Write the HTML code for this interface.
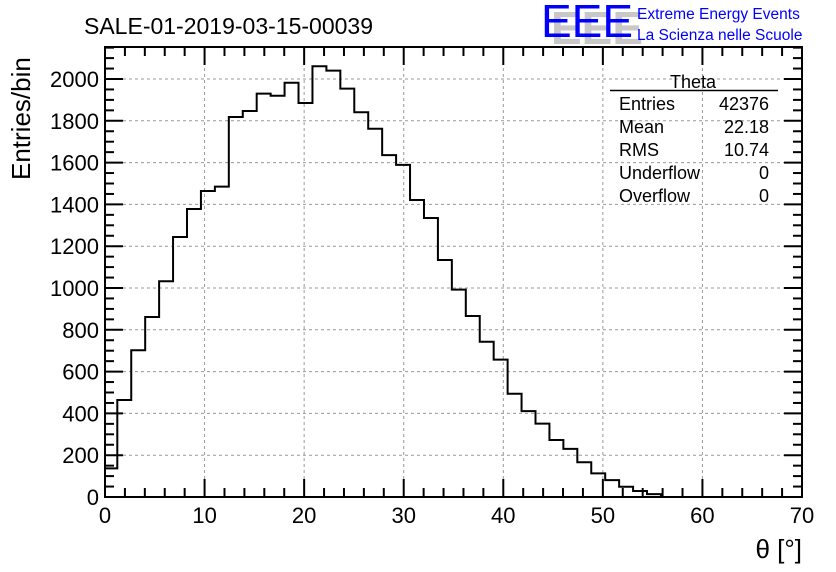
<!DOCTYPE html>
<html><head><meta charset="utf-8"><style>
body{margin:0;background:#fff;}
svg{display:block;font-family:"Liberation Sans",sans-serif;}
</style></head><body>
<svg id="chart" width="836" height="572" xmlns="http://www.w3.org/2000/svg">
<rect width="836" height="572" fill="#fff"/>
<text x="84" y="34" font-size="23">SALE-01-2019-03-15-00039</text>
<g>
<text x="547" y="41" font-size="46" fill="#c8c8c8" font-weight="bold" transform="translate(4,3)">EEE</text>
<text x="541" y="37" font-size="46" fill="#0000ff">EEE</text>
<text x="637" y="19" font-size="15.5" fill="#0000ff">Extreme Energy Events</text>
<text x="637" y="40" font-size="15.5" fill="#0000ff">La Scienza nelle Scuole</text>
</g>
<g id="grid"></g>
<g id="axes"></g>
<path id="hist" fill="none" stroke="#000" stroke-width="2"/>
<g font-size="18">
<text x="693" y="88" text-anchor="middle">Theta</text>
<line x1="610" y1="90.5" x2="778" y2="90.5" stroke="#000" stroke-width="1.5"/>
<text x="619" y="110">Entries</text><text x="769" y="110" text-anchor="end">42376</text>
<text x="619" y="133">Mean</text><text x="769" y="133" text-anchor="end">22.18</text>
<text x="619" y="156">RMS</text><text x="769" y="156" text-anchor="end">10.74</text>
<text x="619" y="179">Underflow</text><text x="769" y="179" text-anchor="end">0</text>
<text x="619" y="202">Overflow</text><text x="769" y="202" text-anchor="end">0</text>
</g>
<text transform="translate(30,180) rotate(-90)" font-size="26">Entries/bin</text>
<text x="802" y="558" text-anchor="end" font-size="26">θ [°]</text>
</svg>
<script>
const binStart = -0.165;
const binWidth = 1.4;
const counts = [137,464,702,861,1032,1244,1378,1464,1485,1818,1847,1930,1920,1982,1885,2061,2040,1954,1841,1762,1636,1589,1421,1335,1134,992,866,743,657,494,411,351,273,230,166,113,81,49,29,14];
const xTicks = [0,10,20,30,40,50,60,70];
const yTicks = [0,200,400,600,800,1000,1200,1400,1600,1800,2000];
const X0=105,X1=802,Y0=497,Y1=47,xmin=0,xmax=70,ymax=(497-47)/0.209;
const sx=v=>X0+(v-xmin)/(xmax-xmin)*(X1-X0);
const sy=v=>Y0-v/ymax*(Y0-Y1);
const NS="http://www.w3.org/2000/svg";
function mk(t,a,p){const e=document.createElementNS(NS,t);for(const k in a)e.setAttribute(k,a[k]);p.appendChild(e);return e;}
const grid=document.getElementById('grid'),axes=document.getElementById('axes');
xTicks.forEach(v=>{if(v>0&&v<70){const l=mk('line',{x1:sx(v),x2:sx(v),y1:Y0,y2:Y1,stroke:'#999','stroke-dasharray':'3,3'},grid);

}});
yTicks.forEach(v=>{if(v>0){const l=mk('line',{x1:X0,x2:X1,y1:sy(v),y2:sy(v),stroke:'#999','stroke-dasharray':'3,3'},grid);

}});
const fr=mk('rect',{x:X0,y:Y1,width:X1-X0,height:Y0-Y1,fill:'none',stroke:'#000','stroke-width':2},axes);


for(let v=0;v<=70;v+=2){const big=v%10===0,L=big?18:9;
mk('line',{x1:sx(v),x2:sx(v),y1:Y0,y2:Y0-L,stroke:'#000','stroke-width':2},axes);
mk('line',{x1:sx(v),x2:sx(v),y1:Y1,y2:Y1+L,stroke:'#000','stroke-width':2},axes);}
for(let v=0;v<=2150;v+=50){const big=v%200===0,L=big?18:9;
mk('line',{x1:X0,x2:X0+L,y1:sy(v),y2:sy(v),stroke:'#000','stroke-width':2},axes);
mk('line',{x1:X1,x2:X1-L,y1:sy(v),y2:sy(v),stroke:'#000','stroke-width':2},axes);}
xTicks.forEach(v=>{const t=mk('text',{x:sx(v),y:523,'text-anchor':'middle','font-size':22},axes);t.textContent=v;

});
yTicks.forEach(v=>{const t=mk('text',{x:99,y:sy(v)+8,'text-anchor':'end','font-size':22},axes);t.textContent=v;

});
let d='M'+sx(0)+','+sy(0);
counts.forEach((c,i)=>{const a=Math.max(0,binStart+i*binWidth),b=binStart+(i+1)*binWidth;
d+=' L'+sx(a)+','+sy(c)+' L'+sx(b)+','+sy(c);});
d+=' L'+sx(binStart+counts.length*binWidth)+','+sy(0);
document.getElementById('hist').setAttribute('d',d);
</script>
</body></html>
